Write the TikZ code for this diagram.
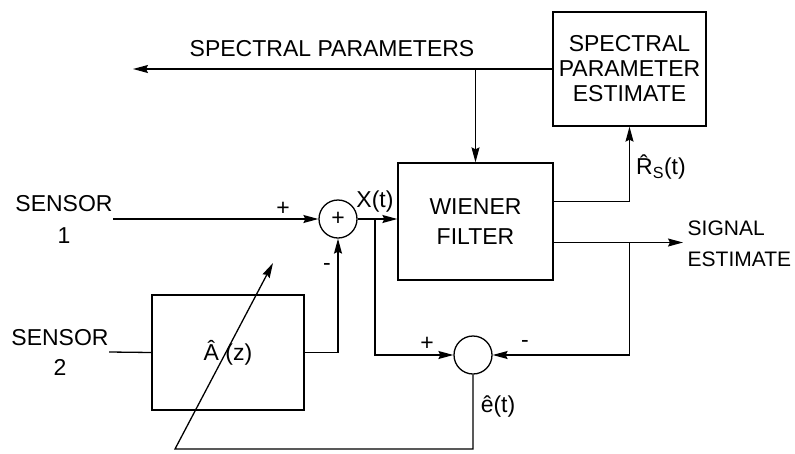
\documentclass[tikz,border=0pt]{standalone}
\usepackage{fontspec}
\setmainfont{Liberation Sans}
\usetikzlibrary{arrows.meta}

\begin{document}
\begin{tikzpicture}[x=1pt,y=-1pt,>={Stealth[length=15pt,width=8pt,inset=2pt]},line width=1.3pt,
  font=\fontsize{23}{25}\selectfont,
  blk/.style={draw,align=center,inner sep=0pt},
  sumc/.style={draw,circle,minimum size=38pt,inner sep=0pt},
  lbl/.style={inner sep=0pt}]
\useasboundingbox (0,0) rectangle (795,453);
% blocks
\node[blk,minimum width=153pt,minimum height=114pt] (spe) at (629.5,69) {SPECTRAL\\PARAMETER\\ESTIMATE};
\node[blk,minimum width=155pt,minimum height=117pt,font=\fontsize{23}{30}\selectfont] (wf) at (475.5,221.5) {WIENER\\FILTER};
\node[blk,minimum width=152pt,minimum height=115pt] (af) at (228,352.5) {\^{A} (z)};
\node[sumc] (s1) at (338,219) {+};
\node[sumc] (s2) at (473,355) {};
% inputs and outputs
\node[lbl,align=center,font=\fontsize{23}{32}\selectfont] (sen1) at (64,219) {SENSOR\\1};
\node[lbl,align=center,font=\fontsize{23}{30}\selectfont] (sen2) at (60,352) {SENSOR\\2};
\node[lbl,align=left,anchor=west,font=\fontsize{21}{31}\selectfont] (sig) at (687,244) {SIGNAL\\ESTIMATE};
\node[lbl] (spp) at (332,49) {SPECTRAL PARAMETERS};
\coordinate (spout) at (133,69);
\coordinate (sigout) at (683,242.5);
\coordinate (j1) at (wf.north |- spe.west);
\coordinate (j3) at (629.5,242.5);
\coordinate (j4) at (375,219);
\coordinate (ej) at (175,449);
\coordinate (adj) at (273,263);
% connectors
\draw[->] (spe.west) -- (spout);
\draw[->] (j1) -- (wf.north);
\draw[->] ([yshift=20pt]wf.east) -| (spe.south);
\draw[->] ([yshift=-21pt]wf.east) -- (sigout);
\draw[->] (j3) |- (s2.east);
\draw[->] (sen1.east) -- (s1.west);
\draw[->] (s1.east) -- (s1.east -| wf.west);
\draw[->] (j4) |- (s2.west);
\draw (sen2.east) -- (af.west);
\draw[->] (af.east) -| (s1.south);
\draw[->] (s2.south) |- (ej) -- (adj);
% signs and signal names
\node[lbl] at (283,209) {+};
\node[lbl] at (327,267) {-};
\node[lbl] at (427,344) {+};
\node[lbl] at (525,344) {-};
\node[lbl] at (375,202) {X(t)};
\node[lbl] at (661,167) {\^{R}\textsubscript{S}(t)};
\node[lbl] at (498,407) {\^{e}(t)};
\end{tikzpicture}
\end{document}
